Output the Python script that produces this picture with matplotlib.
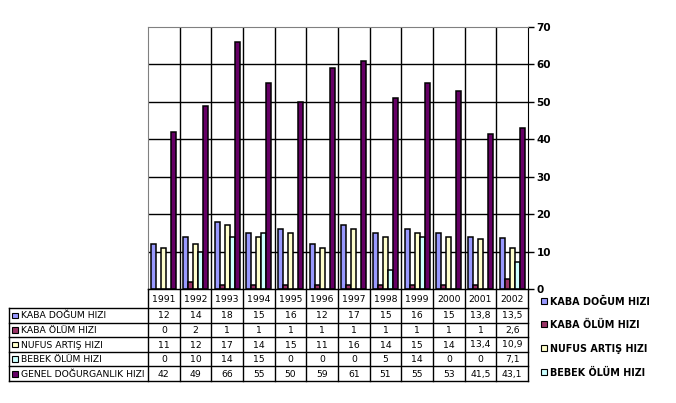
import numpy as np
import matplotlib
matplotlib.use('Agg')
import matplotlib.pyplot as plt
from matplotlib.patches import Rectangle

years = ['1991', '1992', '1993', '1994', '1995', '1996', '1997', '1998', '1999', '2000', '2001', '2002']
kaba_dogum = [12, 14, 18, 15, 16, 12, 17, 15, 16, 15, 13.8, 13.5]
kaba_olum = [0, 2, 1, 1, 1, 1, 1, 1, 1, 1, 1, 2.6]
nufus_artis = [11, 12, 17, 14, 15, 11, 16, 14, 15, 14, 13.4, 10.9]
bebek_olum = [0, 10, 14, 15, 0, 0, 0, 5, 14, 0, 0, 7.1]
genel_dogurganlik = [42, 49, 66, 55, 50, 59, 61, 51, 55, 53, 41.5, 43.1]

series_names = ['KABA DOĞUM HIZI', 'KABA ÖLÜM HIZI', 'NUFUS ARTIŞ HIZI',
                'BEBEK ÖLÜM HIZI', 'GENEL DOĞURGANLIK HIZI']
series = [kaba_dogum, kaba_olum, nufus_artis, bebek_olum, genel_dogurganlik]
colors = ['#9999FF', '#993366', '#FFFFCC', '#CCFFFF', '#660066']

W, H = 676, 403
fig = plt.figure(figsize=(W / 100, H / 100), dpi=100)
fig.patch.set_facecolor('white')

# plot area in pixels
px0, px1, py_top, py_bot = 148, 528, 27, 289
ax = fig.add_axes([px0 / W, 1 - py_bot / H, (px1 - px0) / W, (py_bot - py_top) / H])
ax.set_xlim(0, len(years))
ax.set_ylim(0, 70)

# grid
for k in range(1, len(years)):
    ax.axvline(k, color='black', lw=1, zorder=1)
for v in range(10, 70, 10):
    ax.axhline(v, color='black', lw=1, zorder=1)

bw = 0.158
x = np.arange(len(years)) + 0.5
for i, (vals, c) in enumerate(zip(series, colors)):
    ax.bar(x + (i - 2) * bw, vals, width=bw, color=c, edgecolor='black', lw=1.1, zorder=3)

ax.yaxis.tick_right()
ax.set_yticks(range(0, 71, 10))
ax.tick_params(axis='y', length=4, width=1, color='black', labelsize=7.5, pad=2)
for t in ax.get_yticklabels():
    t.set_fontweight('bold')
ax.set_xticks([])
for s in ['top', 'left', 'bottom']:
    ax.spines[s].set_color('#808080')
ax.spines['right'].set_color('black')

# data table underneath (overlay in pixel coordinates)
tb = fig.add_axes([0, 0, 1, 1])
tb.set_xlim(0, W)
tb.set_ylim(H, 0)
tb.axis('off')

colw = (px1 - px0) / len(years)
tx0 = 9
hdr_top, hdr_bot = 289, 308
row_h = 14.6
n = len(series)
tab_bot = hdr_bot + n * row_h

def fmt(v):
    s = ('%g' % v)
    return s.replace('.', ',')

lc = 'black'
# header cells
for k, yr in enumerate(years):
    xa = px0 + k * colw
    tb.plot([xa, xa], [hdr_top, tab_bot], color=lc, lw=1)
    tb.text(xa + colw / 2, (hdr_top + hdr_bot) / 2 + 0.5, yr, ha='center', va='center', fontsize=6.7)
tb.plot([px1, px1], [hdr_top, tab_bot], color=lc, lw=1)
tb.plot([tx0, tx0], [hdr_bot, tab_bot], color=lc, lw=1)
tb.plot([px0, px1], [hdr_top, hdr_top], color=lc, lw=1)
for r in range(n + 1):
    yy = hdr_bot + r * row_h
    tb.plot([tx0, px1], [yy, yy], color=lc, lw=1)

for r, (name, vals, c) in enumerate(zip(series_names, series, colors)):
    yc = hdr_bot + (r + 0.5) * row_h
    tb.add_patch(Rectangle((tx0 + 3, yc - 2.7), 5.5, 5.5, facecolor=c, edgecolor='black', lw=0.8))
    tb.text(tx0 + 12, yc + 0.5, name, ha='left', va='center', fontsize=6.7)
    for k, v in enumerate(vals):
        tb.text(px0 + (k + 0.5) * colw, yc + 0.5, fmt(v), ha='center', va='center', fontsize=6.7)

# legend (only four entries are visible in the original)
leg_y = [301, 324, 348, 372]
for yc, name, c in zip(leg_y, series_names[:4], colors[:4]):
    tb.add_patch(Rectangle((541, yc - 3), 6, 6, facecolor=c, edgecolor='black', lw=0.8))
    tb.text(550, yc + 0.5, name, ha='left', va='center', fontsize=6.9, fontweight='bold')

fig.savefig('out.png', dpi=100, facecolor='white')
